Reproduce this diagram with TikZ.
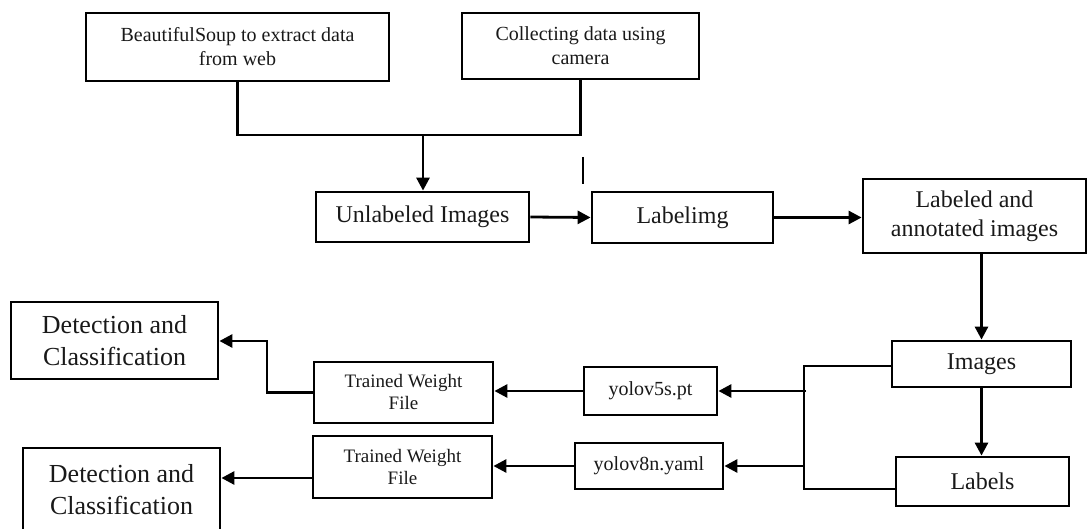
\documentclass[tikz,border=0pt]{standalone}
\usepackage{fontspec}
\setmainfont{Liberation Serif}
\usetikzlibrary{arrows.meta}
\tikzset{
  box/.style={draw, line width=2.8pt, inner sep=0pt, align=center, text=black!90},
  conn/.style={line width=2.8pt},
  arr/.style={line width=2.8pt, -{Triangle[length=13pt,width=13pt]}},
  small/.style={font=\fontsize{20}{24}\selectfont},
  tw/.style={font=\fontsize{19}{22}\selectfont},
  mid/.style={font=\fontsize{24}{29}\selectfont},
  big/.style={font=\fontsize{26}{32}\selectfont},
}
\begin{document}
\begin{tikzpicture}[x=1pt,y=-1pt]
\useasboundingbox (0,0) rectangle (1088,529);
% nodes
\node[box,small,minimum width=303pt,minimum height=68pt] (bs) at (237.5,47) {BeautifulSoup to extract data\\from web};
\node[box,small,minimum width=237pt,minimum height=66pt] (cam) at (580.5,46) {Collecting data using\\camera};
\node[box,mid,minimum width=213pt,minimum height=50pt] (unl) at (422.5,217) {Unlabeled Images};
\node[box,mid,minimum width=181pt,minimum height=51pt] (lbi) at (682.5,217.5) {Labelimg};
\node[box,mid,minimum width=223pt,minimum height=74pt] (lab) at (974.5,216) {Labeled and\\annotated images};
\node[box,mid,minimum width=179pt,minimum height=46pt] (img) at (981.5,364) {Images};
\node[box,mid,minimum width=173pt,minimum height=49pt] (lbl) at (982.5,481.5) {Labels};
\node[box,small,minimum width=133pt,minimum height=48pt] (y5) at (650.5,391) {yolov5s.pt};
\node[box,small,minimum width=148pt,minimum height=46pt] (y8) at (649,466) {yolov8n.yaml};
\node[box,tw,minimum width=179pt,minimum height=61pt] (tw1) at (403.5,392.5) {Trained Weight\\File};
\node[box,tw,minimum width=179pt,minimum height=62pt] (tw2) at (402.5,467) {Trained Weight\\File};
\node[box,big,minimum width=207pt,minimum height=77pt] (det1) at (114.5,340.5) {Detection and\\Classification};
\node[box,big,minimum width=197pt,minimum height=83pt] (det2) at (121.5,489.5) {Detection and\\Classification};
% coordinates
\coordinate (j) at (423,135);
\coordinate (s1) at (583,157);
\coordinate (s2) at (583,184);
\coordinate (bt) at (804,366);
\coordinate (bb) at (804,489);
\coordinate (c1) at (267,341);
\coordinate (c2) at (300,478);
% connectors
\draw[conn] (bs.south) |- (j) -| (cam.south);
\draw[arr] (j) -- (j |- unl.north);
\draw[line width=1.5pt] (s1) -- (s2);
\draw[arr] (unl.east) -- (lbi.west);
\draw[arr] (lbi.east) -- (lbi.east -| lab.west);
\draw[arr] (img.north |- lab.south) -- (img.north);
\draw[arr] (img.south) -- (img.south |- lbl.north);
\draw[conn] (img.west |- bt) -- (bt) -- (bb) -- (lbl.west |- bb);
\draw[arr] ([xshift=2pt]bt |- y5.east) -- (y5.east);
\draw[arr] (bt |- y8.east) -- (y8.east);
\draw[arr] (y5.west) -- (y5.west -| tw1.east);
\draw[arr] (y8.west) -- (y8.west -| tw2.east);
\draw[arr] (tw1.west) -| (c1) -- (c1 -| det1.east);
\draw[arr] (tw2.west |- c2) -- (c2 -| det2.east);
\end{tikzpicture}
\end{document}
